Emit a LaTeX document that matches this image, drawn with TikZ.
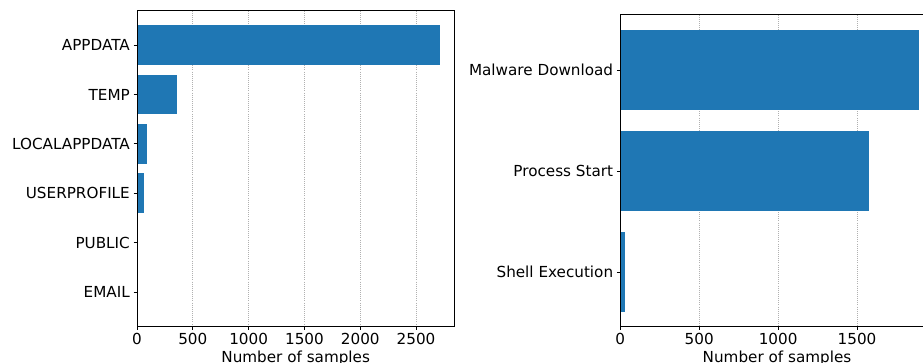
\documentclass[tikz,border=0pt]{standalone}
\usepackage{fontspec}
\setmainfont{DejaVu Sans}
\definecolor{barblue}{HTML}{1F77B4}
\definecolor{gridgrey}{HTML}{B0B0B0}
\tikzset{
  bar/.style={fill=barblue, draw=none},
  spine/.style={draw=black, line width=0.8pt, line cap=rect},
  gridline/.style={draw=gridgrey, line width=0.8pt, dash pattern=on 0.8pt off 1.3pt},
  tickmark/.style={draw=black, line width=0.8pt},
  ylab/.style={anchor=base east, inner sep=0pt, font=\fontsize{15.2}{17}\selectfont},
  xlab/.style={anchor=base, inner sep=0pt, font=\fontsize{15.2}{17}\selectfont},
}
\begin{document}
\begin{tikzpicture}[x=1pt, y=-1pt]
\useasboundingbox (0,0) rectangle (923,363);
\clip (0,0) rectangle (923,363);
% ---------- left axes ----------
\foreach \v in {500,1000,...,2500}
  \draw[gridline] ({137+\v*0.11163},10.7) -- ({137+\v*0.11163},326);
\foreach \c/\w/\n [count=\i] in {45/2715/APPDATA, 94.4/358/TEMP, 143.8/90/LOCALAPPDATA, 193.2/63/USERPROFILE, 242.6/9/PUBLIC, 292/8/EMAIL} {
  \fill[bar] (137,{\c-19.75}) rectangle ({137+\w*0.11163},{\c+19.75});
  \draw[tickmark] (133.5,\c) -- (137,\c);
  \node[ylab] (ly\i) at (130,{\c+5.8}) {\n};
}
\draw[spine] (137,10.7) rectangle (454.3,326);
\foreach \v [count=\i] in {0,500,1000,1500,2000,2500} {
  \draw[tickmark] ({137+\v*0.11163},326) -- ({137+\v*0.11163},329.5);
  \node[xlab] (lx\i) at ({137+\v*0.11163},344.9) {\v};
}
\node[xlab] (lxtitle) at (295.7,362) {Number of samples};
% ---------- right axes ----------
\foreach \v in {500,1000,1500}
  \draw[gridline] ({620.3+\v*0.1578},14.7) -- ({620.3+\v*0.1578},326);
\foreach \c/\w/\n [count=\i] in {70/1893/Malware Download, 171/1576/Process Start, 272/30/Shell Execution} {
  \fill[bar] (620.3,{\c-40.4}) rectangle ({620.3+\w*0.1578},{\c+40.4});
  \draw[tickmark] (616.8,\c) -- (620.3,\c);
  \node[ylab] (ry\i) at (613.3,{\c+5.8}) {\n};
}
\draw[spine] (934,14.7) -- (620.3,14.7) -- (620.3,326) -- (934,326);
\foreach \v [count=\i] in {0,500,1000,1500} {
  \draw[tickmark] ({620.3+\v*0.1578},326) -- ({620.3+\v*0.1578},329.5);
  \node[xlab] (rx\i) at ({620.3+\v*0.1578},344.9) {\v};
}
\node[xlab] (rxtitle) at (777,362) {Number of samples};
\end{tikzpicture}
\end{document}
